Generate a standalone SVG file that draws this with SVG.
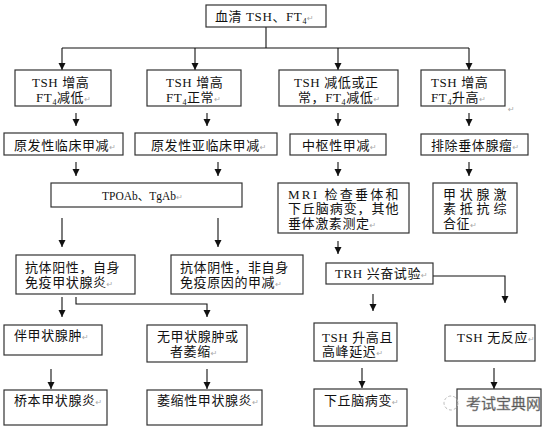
<svg xmlns="http://www.w3.org/2000/svg" width="554" height="431" viewBox="0 0 554 431">
<style>
.box{fill:#fff;stroke:#333;stroke-width:1.2}
text{font-family:"Liberation Serif","Noto Sans CJK SC",serif;font-size:13px;fill:#111;letter-spacing:0.6px}
.rt{fill:#aaa;font-size:8px;font-family:"DejaVu Sans",sans-serif;letter-spacing:0}
.sub{font-size:8px}
.ln{fill:none;stroke:#111;stroke-width:1.1}
.wm{font-family:"Noto Sans CJK SC",sans-serif;font-size:15px;fill:#444;stroke:#999;stroke-width:0.4;letter-spacing:0}
</style>
<defs>
<marker id="ah" markerUnits="userSpaceOnUse" markerWidth="8" markerHeight="8" refX="7" refY="3.5" orient="auto">
<path d="M0,0 L7,3.5 L0,7 z" fill="#111"/>
</marker>
</defs>
<rect width="554" height="431" fill="#fff"/>

<g id="connectors">
<path class="ln" d="M266,27 V48 M62,48 H469"/>
<path class="ln" marker-end="url(#ah)" d="M62,48 V70"/>
<path class="ln" marker-end="url(#ah)" d="M195,48 V70"/>
<path class="ln" marker-end="url(#ah)" d="M338,48 V70"/>
<path class="ln" marker-end="url(#ah)" d="M469,48 V70"/>
<path class="ln" marker-end="url(#ah)" d="M76,113 V126"/>
<path class="ln" marker-end="url(#ah)" d="M207,113 V126"/>
<path class="ln" marker-end="url(#ah)" d="M338,113 V126"/>
<path class="ln" marker-end="url(#ah)" d="M469,113 V126"/>
<path class="ln" marker-end="url(#ah)" d="M76,162 V176"/>
<path class="ln" marker-end="url(#ah)" d="M218,162 V176"/>
<path class="ln" marker-end="url(#ah)" d="M338,162 V176"/>
<path class="ln" marker-end="url(#ah)" d="M469,162 V176"/>
<path class="ln" marker-end="url(#ah)" d="M62,218 V247"/>
<path class="ln" marker-end="url(#ah)" d="M218,218 V247"/>
<path class="ln" marker-end="url(#ah)" d="M338,241 V254"/>
<path class="ln" marker-end="url(#ah)" d="M433,276 H505 V303"/>
<path class="ln" marker-end="url(#ah)" d="M373,294 V311"/>
<path class="ln" marker-end="url(#ah)" d="M62,297 V317"/>
<path class="ln" marker-end="url(#ah)" d="M76,297 V304 H207 V317"/>
<path class="ln" marker-end="url(#ah)" d="M51,369 V389"/>
<path class="ln" marker-end="url(#ah)" d="M207,369 V389"/>
<path class="ln" marker-end="url(#ah)" d="M362,368 V388"/>
<path class="ln" marker-end="url(#ah)" d="M494,368 V389"/>
</g>

<g id="n-serum">
<rect class="box" x="206" y="5" width="120" height="22"/>
<text x="215" y="20.5">血清 TSH、FT<tspan class="sub" dy="3">4</tspan><tspan class="rt" dy="-3">↵</tspan></text>
</g>

<g id="n-a1">
<rect class="box" x="15" y="70" width="96" height="36"/>
<text x="32" y="86.5">TSH  增高</text>
<text x="36" y="101.5">FT<tspan class="sub" dy="3">4</tspan><tspan dy="-3">减低</tspan><tspan class="rt">↵</tspan></text>
</g>
<g id="n-a2">
<rect class="box" x="147" y="70" width="94" height="36"/>
<text x="166" y="86.5">TSH 增高</text>
<text x="166" y="101.5">FT<tspan class="sub" dy="3">4</tspan><tspan dy="-3">正常</tspan><tspan class="rt">↵</tspan></text>
</g>
<g id="n-a3">
<rect class="box" x="279" y="70" width="119" height="36"/>
<text x="294" y="86.5">TSH 减低或正</text>
<text x="298" y="101.5">常，FT<tspan class="sub" dy="3">4</tspan><tspan dy="-3">减低</tspan><tspan class="rt">↵</tspan></text>
</g>
<g id="n-a4">
<rect class="box" x="421" y="70" width="84" height="36"/>
<text x="431" y="86.5">TSH  增高</text>
<text x="431" y="101.5">FT<tspan class="sub" dy="3">4</tspan><tspan dy="-3">升高</tspan><tspan class="rt">↵</tspan></text>
<text class="rt" x="508" y="112">↵</text>
</g>

<g id="n-b1">
<rect class="box" x="4" y="133" width="119" height="22"/>
<text x="14" y="149.5">原发性临床甲减<tspan class="rt">↵</tspan></text>
</g>
<g id="n-b2">
<rect class="box" x="135" y="133" width="142" height="22"/>
<text x="151" y="149.5">原发性亚临床甲减<tspan class="rt">↵</tspan></text>
</g>
<g id="n-b3">
<rect class="box" x="290" y="134" width="96" height="21"/>
<text x="302" y="149.5">中枢性甲减<tspan class="rt">↵</tspan></text>
</g>
<g id="n-b4">
<rect class="box" x="421" y="134" width="107" height="21"/>
<text x="431" y="149.5">排除垂体腺瘤<tspan class="rt">↵</tspan></text>
</g>

<g id="n-c1">
<rect class="box" x="51" y="183" width="191" height="24"/>
<text x="102" y="199.5" style="font-size:11.5px;letter-spacing:0">TPOAb、TgAb<tspan class="rt">↵</tspan></text>
</g>
<g id="n-c2">
<rect class="box" x="278" y="183" width="131" height="50"/>
<text x="288" y="199" textLength="111" lengthAdjust="spacing">MRI 检查垂体和</text>
<text x="288" y="213" textLength="111" lengthAdjust="spacing">下丘脑病变，其他</text>
<text x="288" y="227.5">垂体激素测定<tspan class="rt">↵</tspan></text>
</g>
<g id="n-c3">
<rect class="box" x="433" y="183" width="84" height="50"/>
<text x="443" y="199" textLength="64" lengthAdjust="spacing">甲状腺激</text>
<text x="443" y="213" textLength="64" lengthAdjust="spacing">素抵抗综</text>
<text x="443" y="227.5">合征<tspan class="rt">↵</tspan></text>
</g>

<g id="n-d1">
<rect class="box" x="16" y="255" width="119" height="39"/>
<text x="25" y="271.5">抗体阳性，自身</text>
<text x="25" y="286.5">免疫甲状腺炎<tspan class="rt">↵</tspan></text>
</g>
<g id="n-d2">
<rect class="box" x="171" y="255" width="132" height="39"/>
<text x="180" y="271.5">抗体阴性，非自身</text>
<text x="180" y="286.5">免疫原因的甲减<tspan class="rt">↵</tspan></text>
</g>
<g id="n-d3">
<rect class="box" x="326" y="263" width="107" height="21"/>
<text x="335" y="278">TRH 兴奋试验<tspan class="rt">↵</tspan></text>
</g>

<g id="n-e1">
<rect class="box" x="4" y="325" width="98" height="30"/>
<text x="14" y="339.5">伴甲状腺肿<tspan class="rt">↵</tspan></text>
</g>
<g id="n-e2">
<rect class="box" x="147" y="325" width="100" height="37"/>
<text x="157" y="340.5">无甲状腺肿或</text>
<text x="170" y="355.5">者萎缩<tspan class="rt">↵</tspan></text>
</g>
<g id="n-e3">
<rect class="box" x="314" y="323" width="83" height="38"/>
<text x="322" y="342">TSH  升高且</text>
<text x="322" y="356">高峰延迟<tspan class="rt">↵</tspan></text>
</g>
<g id="n-e4">
<rect class="box" x="445" y="325" width="90" height="36"/>
<text x="457" y="342">TSH 无反应<tspan class="rt">↵</tspan></text>
</g>

<g id="n-f1">
<rect class="box" x="4" y="390" width="103" height="35"/>
<text x="14" y="404.5">桥本甲状腺炎<tspan class="rt">↵</tspan></text>
</g>
<g id="n-f2">
<rect class="box" x="147" y="390" width="115" height="35"/>
<text x="157" y="404.5">萎缩性甲状腺炎<tspan class="rt">↵</tspan></text>
</g>
<g id="n-f3">
<rect class="box" x="314" y="389" width="93" height="37"/>
<text x="324" y="404.5">下丘脑病变<tspan class="rt">↵</tspan></text>
</g>
<g id="n-f4">
<rect class="box" x="457" y="389" width="84" height="37"/>
<circle cx="451" cy="403" r="7" fill="none" stroke="#bbb" stroke-width="1" stroke-dasharray="3,2"/>
<text class="wm" x="466" y="409">考试宝典网</text>
</g>
</svg>
